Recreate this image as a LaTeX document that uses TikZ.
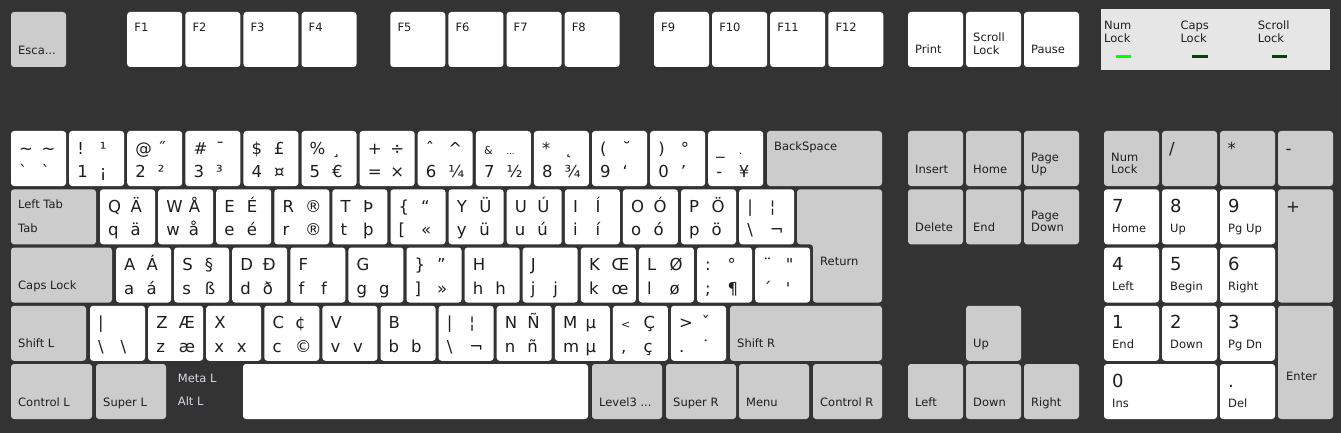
\documentclass[tikz,border=0pt]{standalone}
\usepackage{fontspec}
\newfontfamily\kf{DejaVu Sans}
\definecolor{bgc}{HTML}{333333}
\definecolor{keygrey}{HTML}{CCCCCC}
\definecolor{keytext}{HTML}{1E1E1E}
\definecolor{ledpanel}{HTML}{E6E6E6}
\definecolor{ledon}{HTML}{00FF00}
\definecolor{ledoff}{HTML}{004400}
\definecolor{metatext}{HTML}{D8D8E4}
\tikzset{
  kw/.style={fill=white, draw=none, rounded corners=3pt, inner sep=0pt, outer sep=0pt, anchor=north west},
  kg/.style={kw, fill=keygrey},
  klab/.style={font=\kf\fontsize{11.5}{12}\selectfont, text=keytext, inner sep=0pt, anchor=base west},
  kbig/.style={klab, font=\kf\fontsize{16.5}{17}\selectfont},
  knum/.style={klab, font=\kf\fontsize{18}{18}\selectfont},
  kmeta/.style={klab, text=metatext},
}
\newcommand\ksm{\fontsize{11}{11}\selectfont}
\newcommand\ktn{\fontsize{8}{8}\selectfont}
% key rectangle: name x y w h style
\newcommand\kk[6]{\node[#6, minimum width=#4pt, minimum height=#5pt] (#1) at (#2,#3) {};}
% label: style name key dx dy text
\newcommand\tx[6]{\if\relax\detokenize{#6}\relax\else\node[#1] (#2) at ([xshift=#4pt,yshift=-#5pt]#3.north west) {#6};\fi}
% character key: name x y ul ur ll lr
\newcommand\ck[7]{\kk{#1}{#2}{#3}{55}{55}{kw}%
  \tx{kbig}{#1a}{#1}{8}{23}{#4}\tx{kbig}{#1b}{#1}{30.5}{23}{#5}%
  \tx{kbig}{#1c}{#1}{8}{46.5}{#6}\tx{kbig}{#1d}{#1}{30.5}{46.5}{#7}}
% modifier key, one line: name x y w style text
\newcommand\mk[6]{\kk{#1}{#2}{#3}{#4}{55}{#5}\tx{klab}{#1l}{#1}{7}{42}{#6}}
% modifier key, two lines
\newcommand\mkk[7]{\kk{#1}{#2}{#3}{#4}{55}{#5}\tx{klab}{#1l}{#1}{7}{30}{#6}\tx{klab}{#1m}{#1}{7}{42.5}{#7}}
% top-labelled key
\newcommand\tk[6]{\kk{#1}{#2}{#3}{#4}{55}{#5}\tx{klab}{#1l}{#1}{7}{19.5}{#6}}
% numpad key: name x y w h style big small
\newcommand\nk[8]{\kk{#1}{#2}{#3}{#4}{#5}{#6}\tx{knum}{#1a}{#1}{8}{23}{#7}\tx{klab}{#1b}{#1}{8}{43}{#8}}
\begin{document}
\begin{tikzpicture}[x=1pt,y=-1pt]
\fill[bgc] (0,0) rectangle (1341,433);
\useasboundingbox (0,0) rectangle (1341,433);
% function row
\kk{esc}{11}{12}{55}{55}{kg}\tx{klab}{escl}{esc}{7}{43}{Esca...}
\tk{fa}{127.2}{12}{55}{kw}{F1}
\tk{fb}{185.3}{12}{55}{kw}{F2}
\tk{fc}{243.4}{12}{55}{kw}{F3}
\tk{fd}{301.5}{12}{55}{kw}{F4}
\tk{fe}{390.3}{12}{55}{kw}{F5}
\tk{ff}{448.4}{12}{55}{kw}{F6}
\tk{fg}{506.5}{12}{55}{kw}{F7}
\tk{fh}{564.6}{12}{55}{kw}{F8}
\tk{fi}{654}{12}{55}{kw}{F9}
\tk{fj}{712.1}{12}{55}{kw}{F10}
\tk{fk}{770.2}{12}{55}{kw}{F11}
\tk{fl}{828.3}{12}{55}{kw}{F12}
\mk{prt}{908}{12}{55}{kw}{Print}
\mkk{scr}{966}{12}{55}{kw}{Scroll}{Lock}
\mk{pau}{1024}{12}{55}{kw}{Pause}
% LED panel
\fill[ledpanel] (1101,9) rectangle (1330,70);
\node[klab] (ledna) at (1104,30) {Num};
\node[klab] (lednb) at (1104,42.7) {Lock};
\node[klab] (ledca) at (1180.3,30) {Caps};
\node[klab] (ledcb) at (1180.3,42.7) {Lock};
\node[klab] (ledsa) at (1257.7,30) {Scroll};
\node[klab] (ledsb) at (1257.7,42.7) {Lock};
\fill[ledon] (1116,55) rectangle (1131,57.7);
\fill[ledoff] (1191.7,55) rectangle (1208.3,57.7);
\fill[ledoff] (1272,55) rectangle (1287,57.7);
% row 1
\ck{ra}{11}{131}{\textasciitilde}{\textasciitilde}{`}{`}
\ck{rb}{69.1}{131}{!}{¹}{1}{¡}
\ck{rc}{127.2}{131}{@}{˝}{2}{²}
\ck{rd}{185.3}{131}{\#}{¯}{3}{³}
\ck{re}{243.4}{131}{\$}{£}{4}{¤}
\ck{rf}{301.5}{131}{\%}{¸}{5}{€}
\ck{rg}{359.6}{131}{+}{÷}{=}{×}
\ck{rh}{417.7}{131}{ˆ}{\textasciicircum}{6}{¼}
\ck{ri}{475.8}{131}{{\ksm\&}}{{\ktn …}}{7}{½}
\ck{rj}{533.9}{131}{*}{˛}{8}{¾}
\ck{rk}{592}{131}{(}{˘}{9}{‘}
\ck{rl}{650.1}{131}{)}{°}{0}{’}
\ck{rm}{708.2}{131}{\_}{{\ksm .}}{-}{¥}
\tk{bks}{767}{131}{115}{kg}{BackSpace}
% row 2
\kk{tab}{11}{189.3}{85}{55}{kg}
\tx{klab}{tabl}{tab}{7}{19}{Left Tab}
\tx{klab}{tabm}{tab}{7}{43}{Tab}
\ck{sa}{100}{189.3}{Q}{Ä}{q}{ä}
\ck{sb}{158.1}{189.3}{W}{Å}{w}{å}
\ck{sc}{216.2}{189.3}{E}{É}{e}{é}
\ck{sd}{274.3}{189.3}{R}{®}{r}{®}
\ck{se}{332.4}{189.3}{T}{Þ}{t}{þ}
\ck{sf}{390.5}{189.3}{\{}{“}{[}{«}
\ck{sg}{448.6}{189.3}{Y}{Ü}{y}{ü}
\ck{sh}{506.7}{189.3}{U}{Ú}{u}{ú}
\ck{si}{564.8}{189.3}{I}{Í}{i}{í}
\ck{sj}{622.9}{189.3}{O}{Ó}{o}{ó}
\ck{sk}{681}{189.3}{P}{Ö}{p}{ö}
\ck{sl}{739.1}{189.3}{|}{¦}{\textbackslash}{¬}
\fill[keygrey, rounded corners=3pt] (797,189.3) -- (882,189.3) -- (882,302.5) -- (813,302.5) -- (813,244.3) -- (797,244.3) -- cycle;
\node[klab] (retl) at (820,265) {Return};
% row 3
\mk{caps}{11}{247.5}{101}{kg}{Caps Lock}
\ck{ta}{116}{247.5}{A}{Á}{a}{á}
\ck{tb}{174.1}{247.5}{S}{§}{s}{ß}
\ck{tc}{232.2}{247.5}{D}{Đ}{d}{ð}
\ck{td}{290.3}{247.5}{F}{}{f}{f}
\ck{te}{348.4}{247.5}{G}{}{g}{g}
\ck{tf}{406.5}{247.5}{\}}{”}{]}{»}
\ck{tg}{464.6}{247.5}{H}{}{h}{h}
\ck{th}{522.7}{247.5}{J}{}{j}{j}
\ck{ti}{580.8}{247.5}{K}{Œ}{k}{œ}
\ck{tj}{638.9}{247.5}{L}{Ø}{l}{ø}
\ck{tk}{697}{247.5}{:}{°}{;}{¶}
\ck{tl}{755.1}{247.5}{¨}{"}{´}{'}
% row 4
\mk{shl}{11}{305.8}{75}{kg}{Shift L}
\ck{ua}{90}{305.8}{|}{}{\textbackslash}{\textbackslash}
\ck{ub}{148.1}{305.8}{Z}{Æ}{z}{æ}
\ck{uc}{206.2}{305.8}{X}{}{x}{x}
\ck{ud}{264.3}{305.8}{C}{¢}{c}{©}
\ck{ue}{322.4}{305.8}{V}{}{v}{v}
\ck{uf}{380.5}{305.8}{B}{}{b}{b}
\ck{ug}{438.6}{305.8}{|}{¦}{\textbackslash}{¬}
\ck{uh}{496.7}{305.8}{N}{Ñ}{n}{ñ}
\ck{ui}{554.8}{305.8}{M}{µ}{m}{µ}
\ck{uj}{612.9}{305.8}{{\ksm <}}{Ç}{,}{ç}
\ck{uk}{671}{305.8}{>}{ˇ}{.}{˙}
\mk{shr}{730}{305.8}{152}{kg}{Shift R}
% row 5
\mk{ctl}{11}{364}{81}{kg}{Control L}
\mk{sul}{96}{364}{70}{kg}{Super L}
\node[kmeta] (meta) at (177.7,382.3) {Meta L};
\node[kmeta] (alt) at (177.7,405.7) {Alt L};
\kk{spc}{243}{364}{345}{55}{kw}
\mk{lvl}{592}{364}{70}{kg}{Level3 ...}
\mk{sur}{666}{364}{70}{kg}{Super R}
\mk{menu}{739}{364}{70}{kg}{Menu}
\mk{ctr}{813}{364}{69}{kg}{Control R}
% navigation
\mk{ins}{908}{131}{55}{kg}{Insert}
\mk{home}{966}{131}{55}{kg}{Home}
\mkk{pgu}{1024}{131}{55}{kg}{Page}{Up}
\mk{del}{908}{189.3}{55}{kg}{Delete}
\mk{end}{966}{189.3}{55}{kg}{End}
\mkk{pgd}{1024}{189.3}{55}{kg}{Page}{Down}
\mk{up}{966}{305.8}{55}{kg}{Up}
\mk{left}{908}{364}{55}{kg}{Left}
\mk{down}{966}{364}{55}{kg}{Down}
\mk{right}{1024}{364}{55}{kg}{Right}
% numpad
\mkk{nlk}{1104}{131}{55}{kg}{Num}{Lock}
\kk{ndiv}{1162}{131}{55}{55}{kg}\tx{kbig}{ndivl}{ndiv}{7}{23}{/}
\kk{nmul}{1220}{131}{55}{55}{kg}\tx{kbig}{nmull}{nmul}{7.5}{23}{*}
\kk{nsub}{1278}{131}{55}{55}{kg}\tx{kbig}{nsubl}{nsub}{7.5}{23}{-}
\nk{nsev}{1104}{189.3}{55}{55}{kw}{7}{Home}
\nk{neig}{1162}{189.3}{55}{55}{kw}{8}{Up}
\nk{nnin}{1220}{189.3}{55}{55}{kw}{9}{Pg Up}
\kk{nadd}{1278}{189.3}{55}{113.2}{kg}\tx{kbig}{naddl}{nadd}{8}{23}{+}
\nk{nfou}{1104}{247.5}{55}{55}{kw}{4}{Left}
\nk{nfiv}{1162}{247.5}{55}{55}{kw}{5}{Begin}
\nk{nsix}{1220}{247.5}{55}{55}{kw}{6}{Right}
\nk{none}{1104}{305.8}{55}{55}{kw}{1}{End}
\nk{ntwo}{1162}{305.8}{55}{55}{kw}{2}{Down}
\nk{nthr}{1220}{305.8}{55}{55}{kw}{3}{Pg Dn}
\kk{nent}{1278}{305.8}{55}{113.2}{kg}\tx{klab}{nentl}{nent}{8}{75}{Enter}
\nk{nzer}{1104}{364}{113}{55}{kw}{0}{Ins}
\nk{ndot}{1220}{364}{55}{55}{kw}{.}{Del}
\end{tikzpicture}
\end{document}
